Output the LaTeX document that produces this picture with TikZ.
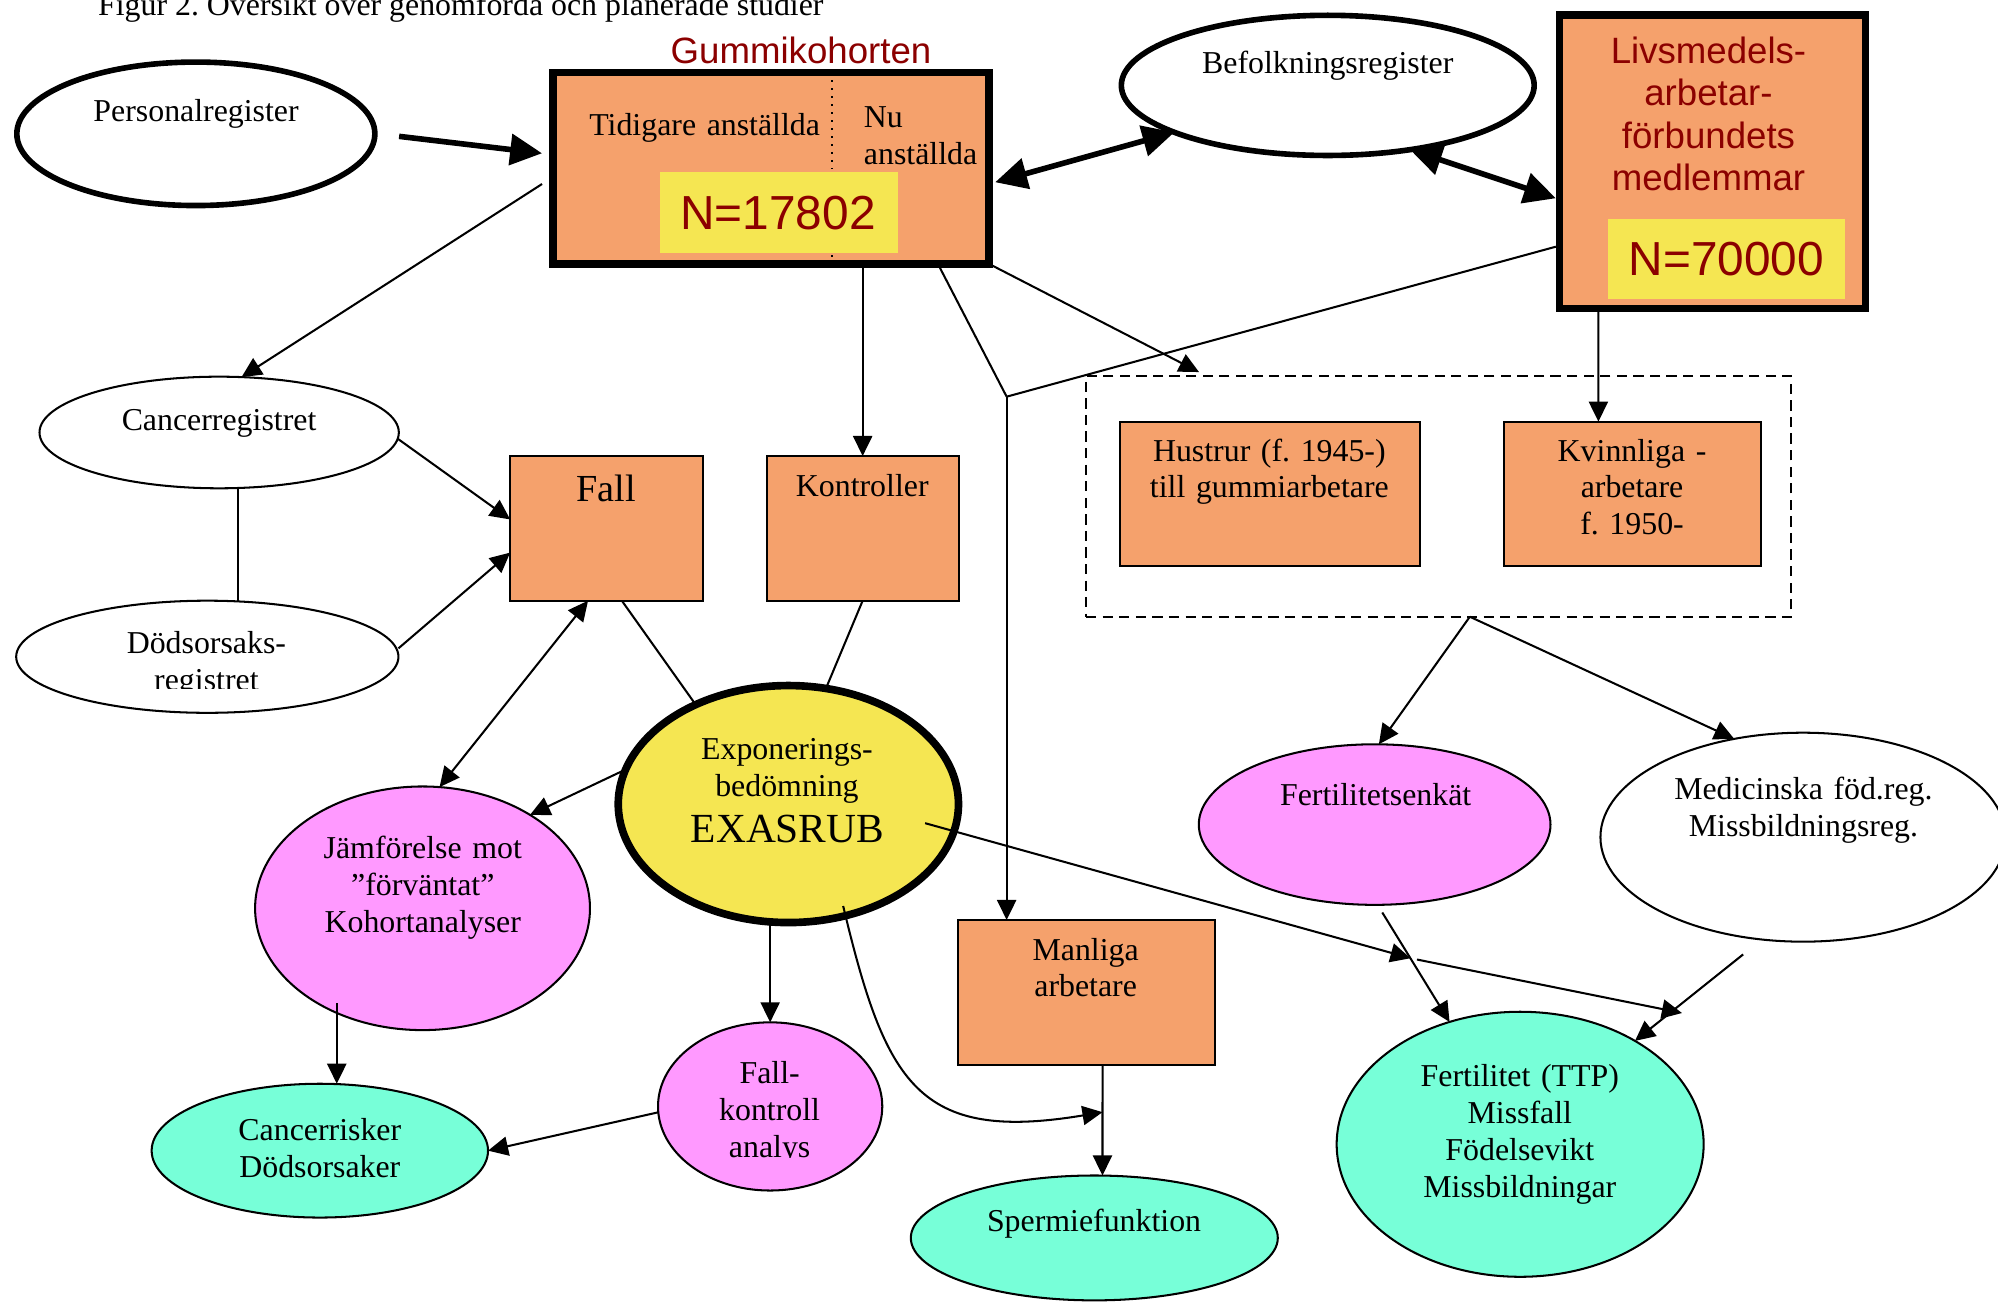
\documentclass[tikz,border=0pt]{standalone}
\usepackage{fontspec}
\setmainfont{Liberation Serif}
\newfontfamily\arialfont{Liberation Sans}
\usepackage{tikz}
\usetikzlibrary{shapes.geometric,arrows.meta,calc}

\definecolor{boxorange}{HTML}{F5A16C}
\definecolor{hiyellow}{HTML}{F5E652}
\definecolor{pinkfill}{HTML}{FF99FF}
\definecolor{aquafill}{HTML}{77FFD8}
\definecolor{darkred}{HTML}{8B0000}

\newlength\unitpx
\setlength\unitpx{0.4pt}
\frenchspacing

\begin{document}
\begin{tikzpicture}[x=0.4pt,y=-0.4pt,
  every node/.style={outer sep=0pt},
  oval/.style={ellipse,draw,line width=0.64pt,inner sep=0pt},
  ovalthick/.style={oval,line width=1.76pt},
  orbox/.style={rectangle,draw,fill=boxorange,line width=0.64pt,inner sep=0pt},
  nbox/.style={rectangle,fill=hiyellow,inner sep=0pt},
  groupframe/.style={rectangle,draw,line width=0.64pt,dash pattern=on 3.2pt off 2pt,inner sep=0pt},
  txt/.style={anchor=base,align=center,inner sep=0pt,text width=8cm,font=\fontsize{10}{11.6}\selectfont},
  redtxt/.style={txt,text=darkred,font=\arialfont\fontsize{11.5}{13.3}\selectfont},
  bignum/.style={redtxt,font=\arialfont\fontsize{15}{18}\selectfont},
  arr/.style={-{Triangle[length=6.3pt,width=6pt]},line width=0.64pt},
  arrboth/.style={{Triangle[length=6.3pt,width=6pt]}-{Triangle[length=6.3pt,width=6pt]},line width=0.64pt},
  thickarr/.style={-{Triangle[length=10pt,width=9.6pt]},line width=1.76pt},
  thickboth/.style={{Triangle[length=10pt,width=9.6pt]}-{Triangle[length=10pt,width=9.6pt]},line width=1.76pt},
  ln/.style={line width=0.64pt}]
\useasboundingbox (0,0) rectangle (1568,1022);

% boxes and ovals
\node[ovalthick,minimum width=281\unitpx,minimum height=112.6\unitpx] (personal) at (153.7,105) {};
\node[ovalthick,minimum width=324\unitpx,minimum height=110\unitpx] (befolk) at (1042,67) {};
\node[orbox,line width=2.4pt,minimum width=342\unitpx,minimum height=150\unitpx] (gummi) at (605,132) {};
\draw[dotted,line width=0.5pt] ($(gummi.north)+(48,6)$) -- ($(gummi.south)+(48,6)$);
\node[nbox,minimum width=187\unitpx,minimum height=63.5\unitpx] (n1) at (611.5,166.75) {};
\node[orbox,line width=2.4pt,minimum width=240\unitpx,minimum height=230\unitpx] (livs) at (1344,127) {};
\node[nbox,minimum width=186\unitpx,minimum height=63\unitpx] (n2) at (1355,203.5) {};
\node[oval,minimum width=282\unitpx,minimum height=87.6\unitpx] (cancer) at (172,339.4) {};
\node[oval,minimum width=300\unitpx,minimum height=88\unitpx] (dods) at (162.7,515.4) {};
\node[orbox,minimum width=151.2\unitpx,minimum height=113.5\unitpx] (fall) at (476,414.65) {};
\node[orbox,minimum width=150.7\unitpx,minimum height=113.5\unitpx] (kontr) at (677,414.65) {};
\node[groupframe,minimum width=553.2\unitpx,minimum height=189\unitpx] (frame) at (1129,389.5) {};
\node[orbox,minimum width=235.8\unitpx,minimum height=113.5\unitpx] (hustrur) at (996.6,387.65) {};
\node[orbox,minimum width=201.4\unitpx,minimum height=113.5\unitpx] (kvinn) at (1281.1,387.65) {};
\node[oval,line width=2.4pt,fill=hiyellow,minimum width=267\unitpx,minimum height=186\unitpx] (expo) at (618.7,631) {};
\node[oval,fill=pinkfill,minimum width=262.8\unitpx,minimum height=191.2\unitpx] (jamf) at (331.6,712.8) {};
\node[oval,fill=aquafill,minimum width=264\unitpx,minimum height=105\unitpx] (cancrisk) at (251,903) {};
\node[oval,fill=pinkfill,minimum width=176\unitpx,minimum height=132\unitpx] (fallk) at (604.4,868.3) {};
\node[orbox,minimum width=201.7\unitpx,minimum height=113.8\unitpx] (manliga) at (852.65,778.9) {};
\node[oval,fill=aquafill,minimum width=288\unitpx,minimum height=98\unitpx] (spermie) at (858.8,971.5) {};
\node[oval,fill=pinkfill,minimum width=276\unitpx,minimum height=126\unitpx] (fertenk) at (1078.8,647.1) {};
\node[oval,minimum width=318\unitpx,minimum height=164\unitpx] (medic) at (1415,657) {};
\node[oval,fill=aquafill,minimum width=288\unitpx,minimum height=208\unitpx] (fertil) at (1193,898) {};

% connections
\draw[thickarr] ($(personal.east)+(19,2)$) -- ($(gummi.west)+(-8.6,-11.7)$);
\draw[thickboth] ($(gummi.east)+(5,11)$) -- (befolk.197);
\draw[thickboth] (befolk.322) -- ($(livs.west)+(-3,28.6)$);
\draw[arr] ($(gummi.west)+(-8.6,12.4)$) -- (cancer.68);
\draw[ln] ($(cancer.south)+(14.7,0)$) -- ($(dods.north)+(24,0)$);
\draw[arr] (cancer.-2.4) -- ($(fall.west)+(0,-7)$);
\draw[arr] ($(dods.east)+(0,-6.6)$) -- ($(fall.west)+(0,19)$);
\draw[arr] (gummi.south -| kontr.north) -- (kontr.north);
\draw[ln] ($(fall.south)+(12,0)$) -- (expo.133);
\draw[ln] (kontr.south) -- (expo.72);
\draw[arrboth] ($(fall.south)+(-14.5,0)$) -- (jamf.82);
\draw[arr] (expo.168) -- (jamf.41);
\draw[arr] ($(jamf.center)+(-67.3,74.6)$) -- ($(cancrisk.north)+(13.3,0)$);
\draw[arr] (expo.south -| fallk.north) -- (fallk.north);
\draw[arr] (fallk.183) -- (cancrisk.east);
\draw[arr] ($(expo.center)+(43,80)$) .. controls (695,850) and (720,897) .. ($(manliga.south)+(12.6,37)$);
\draw[arr] ($(manliga.south)+(12.6,0)$) -- ($(spermie.north)+(6.4,0)$);
\coordinate (split) at (790,311.3);
\draw[ln] ($(gummi.south)+(131,0)$) -- (split);
\draw[ln] ($(livs.west)+(-3,66.6)$) -- (split);
\draw[arr] (split) -- (split |- manliga.north);
\draw[arr] (gummi.south east) -- ($(frame.north west)+(88.6,-3)$);
\draw[arr] ($(livs.south west)+(30.4,0)$) -- ($(kvinn.north west)+(74,0)$);
\coordinate (fsplit) at ($(frame.south)+(24.5,0)$);
\draw[arr] (fsplit) -- (fertenk.87);
\draw[arr] (fsplit) -- (medic.125);
\coordinate (xcross) at (1107,752);
\draw[arr] ($(expo.center)+(107.3,15)$) -- (xcross);
\draw[arr] ($(xcross)+(5,1)$) -- ($(fertil.center)+(127,-103)$);
\draw[arr] ($(fertenk.south)+(6,6)$) -- (fertil.120);
\draw[arr] ($(medic.center)+(-47,92)$) -- (fertil.42);

% texts
\node[anchor=base west,inner sep=0pt,font=\fontsize{10}{12}\selectfont] (title) at (77,12.3) {Figur 2. Översikt över genomförda och planerade studier};
\node[redtxt] (gummi-t) at (628.6,49.7) {Gummikohorten};
\node[txt] (personal-t) at (153.9,95.5) {Personalregister};
\node[txt] (tidigare-t) at (553,106) {Tidigare anställda};
\node[txt,align=left,anchor=base west,text width=3cm] (nu-t) at (678,100.2) {Nu\\anställda};
\node[bignum] (n1-t) at (610.6,180) {N=17802};
\node[txt] (befolk-t) at (1042,57.5) {Befolkningsregister};
\node[redtxt] (livs-t) at (1340.8,49.7) {Livsmedels-\\arbetar-\\förbundets\\medlemmar};
\node[bignum] (n2-t) at (1354.8,216) {N=70000};
\node[txt] (cancer-t) at (171.9,337.5) {Cancerregistret};
\begin{scope}
  \clip (0,480) rectangle (400,540);
  \node[txt] (dods-t) at (162,512.6) {Dödsorsaks-\\registret};
\end{scope}
\node[txt,font=\fontsize{12}{14}\selectfont] (fall-t) at (475.5,393.7) {Fall};
\node[txt] (kontr-t) at (676.7,389.3) {Kontroller};
\node[txt] (hustrur-t) at (996.2,361.8) {Hustrur (f. 1945-)\\till gummiarbetare};
\node[txt] (kvinn-t) at (1280.8,361.8) {Kvinnliga -\\arbetare\\f. 1950-};
\node[txt] (expo-t) at (617.6,596) {Exponerings-\\bedömning};
\node[txt,font=\fontsize{13}{15}\selectfont] (exasrub-t) at (618,661.4) {EXASRUB};
\node[txt] (jamf-t) at (331.8,673.5) {Jämförelse mot\\”förväntat”\\Kohortanalyser};
\node[txt] (fertenk-t) at (1079.6,632) {Fertilitetsenkät};
\node[txt] (medic-t) at (1415.3,627.8) {Medicinska föd.reg.\\Missbildningsreg.};
\node[txt] (cancrisk-t) at (251,894.7) {Cancerrisker\\Dödsorsaker};
\begin{scope}
  \clip (500,820) rectangle (700,908.5);
  \node[txt] (fallk-t) at (604,850) {Fall-\\kontroll\\analys};
\end{scope}
\node[txt] (manliga-t) at (852,753.4) {Manliga\\arbetare};
\node[txt] (spermie-t) at (858.6,966.6) {Spermiefunktion};
\node[txt] (fertil-t) at (1192.7,852.8) {Fertilitet (TTP)\\Missfall\\Födelsevikt\\Missbildningar};
\end{tikzpicture}
\end{document}
